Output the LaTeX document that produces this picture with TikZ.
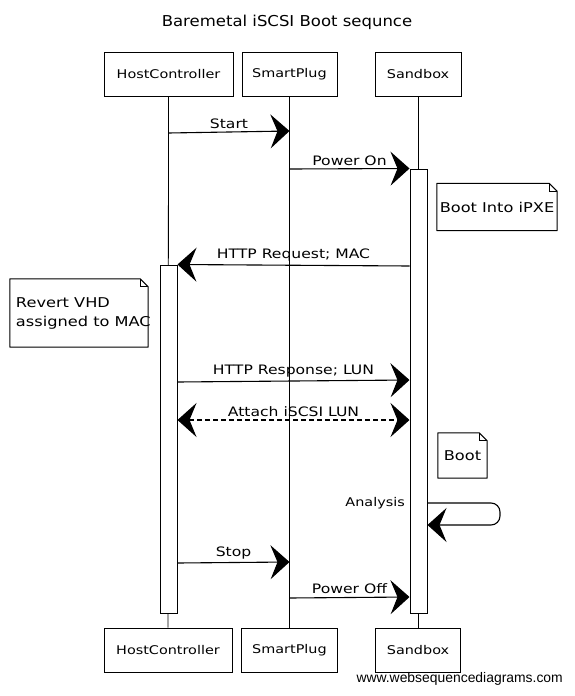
\documentclass[tikz,border=0pt]{standalone}
\usepackage{fontspec}
\setmainfont{DejaVu Sans}[FakeStretch=1.2]
\newfontfamily\titlefont{DejaVu Sans}[FakeStretch=1.1]
\newfontfamily\footfont{Liberation Sans}
\usetikzlibrary{arrows.meta,calc}

\begin{document}
\begin{tikzpicture}[x=1pt,y=-1pt,
  actor/.style={draw,line width=1pt,fill=white,minimum height=44pt,inner sep=0pt,
                font=\fontsize{12}{14}\selectfont},
  life/.style={line width=0.8pt},
  actbar/.style={draw,line width=1pt,fill=white,minimum width=17pt,inner sep=0pt},
  msg/.style={line width=1.1pt,-{Stealth[length=19pt,width=34pt,inset=7pt]}},
  dmsg/.style={line width=1.1pt,dashed,dash pattern=on 5pt off 3pt,
               {Stealth[length=19pt,width=34pt,inset=7pt]}-{Stealth[length=19pt,width=34pt,inset=7pt]}},
  lbl/.style={font=\fontsize{13}{15}\selectfont,inner sep=1pt},
  notebox/.style={inner sep=0pt,align=left,font=\fontsize{13.5}{19}\selectfont},
  noteline/.style={line width=1pt,fill=white,line join=round}
]
\useasboundingbox (0,0) rectangle (575,696);

% title
\node (title) at (287,22) {\titlefont\fontsize{15}{18}\selectfont Baremetal iSCSI Boot sequnce};

% participants, top and bottom
\node[actor,minimum width=129pt] (hcTop) at (168.5,74.5) {HostController};
\node[actor,minimum width=95pt]  (spTop) at (289.5,74.5) {SmartPlug};
\node[actor,minimum width=86pt]  (sbTop) at (418,74.5)   {Sandbox};
\node[actor,minimum width=128pt] (hcBot) at (168,650)    {HostController};
\node[actor,minimum width=96pt]  (spBot) at (289.5,650)  {SmartPlug};
\node[actor,minimum width=85pt]  (sbBot) at (418,650)    {Sandbox};

% lifelines
\draw[life] (hcTop.south) -- (hcBot.north);
\draw[life] (spTop.south) -- (spBot.north);
\draw[life] (sbTop.south) -- (sbBot.north);

% activation bars
\node[actbar,minimum height=444pt] (sbAct) at (418.5,391) {};
\node[actbar,minimum height=348pt] (hcAct) at (168.5,439) {};

% messages
\draw[msg] (hcTop.south |- 0,133) -- node[lbl,above=2pt] {Start} (spTop.south |- 0,131);
\draw[msg] (spTop.south |- 0,169) -- node[lbl,above=2pt] {Power On} (sbAct.north west);
\draw[msg] (sbAct.west |- 0,266) -- node[lbl,above=2pt] {HTTP Request; MAC} (hcAct.north east);
\draw[msg] (hcAct.east |- 0,382) -- node[lbl,above=2pt] {HTTP Response; LUN} (sbAct.west |- 0,380);
\draw[dmsg] (hcAct.east |- 0,420) -- node[lbl,above=2pt] {Attach iSCSI LUN} (sbAct.west |- 0,420);
\draw[msg] (hcAct.east |- 0,563) -- node[lbl,above=2pt] {Stop} (spTop.south |- 0,562);
\draw[msg] (spTop.south |- 0,598) -- node[lbl,above=2pt] {Power Off} (sbAct.west |- 0,597);

% self message on the sandbox
\coordinate (selfA) at (500,503);
\coordinate (selfB) at (500,525);
\draw[msg,rounded corners=9pt] (sbAct.east |- 0,503) -- (selfA) -- (selfB) -- (sbAct.east |- 0,525);
\node[lbl,anchor=east,font=\fontsize{12}{14}\selectfont] (anl) at (406,503) {Analysis};

% notes with a folded corner
\newcommand{\foldnote}[1]{%
  \draw[noteline] (#1.north west) -- ($(#1.north east)+(-8,0)$) -- ($(#1.north east)+(0,8)$)
    -- (#1.south east) -- (#1.south west) -- cycle;
  \draw[line width=0.8pt] ($(#1.north east)+(-8,0)$) -- ($(#1.north east)+(-8,8)$) -- ($(#1.north east)+(0,8)$);
}
\node[notebox,minimum width=120pt,minimum height=47pt] (n1) at (497,207) {};
\foldnote{n1}
\node[notebox] at (n1) {Boot Into iPXE};

\node[notebox,minimum width=138pt,minimum height=68pt] (n2) at (79,313) {};
\foldnote{n2}
\node[notebox,anchor=west] at ($(n2.west)+(6,0)$) {Revert VHD\\assigned to MAC};

\node[notebox,minimum width=49pt,minimum height=45pt] (n3) at (462.5,455.5) {};
\foldnote{n3}
\node[notebox] at (n3) {Boot};

% footer
\node[font=\footfont\fontsize{13.9}{16}\selectfont,anchor=east,inner sep=0pt] (foot) at (563,679) {www.websequencediagrams.com};
\end{tikzpicture}
\end{document}
